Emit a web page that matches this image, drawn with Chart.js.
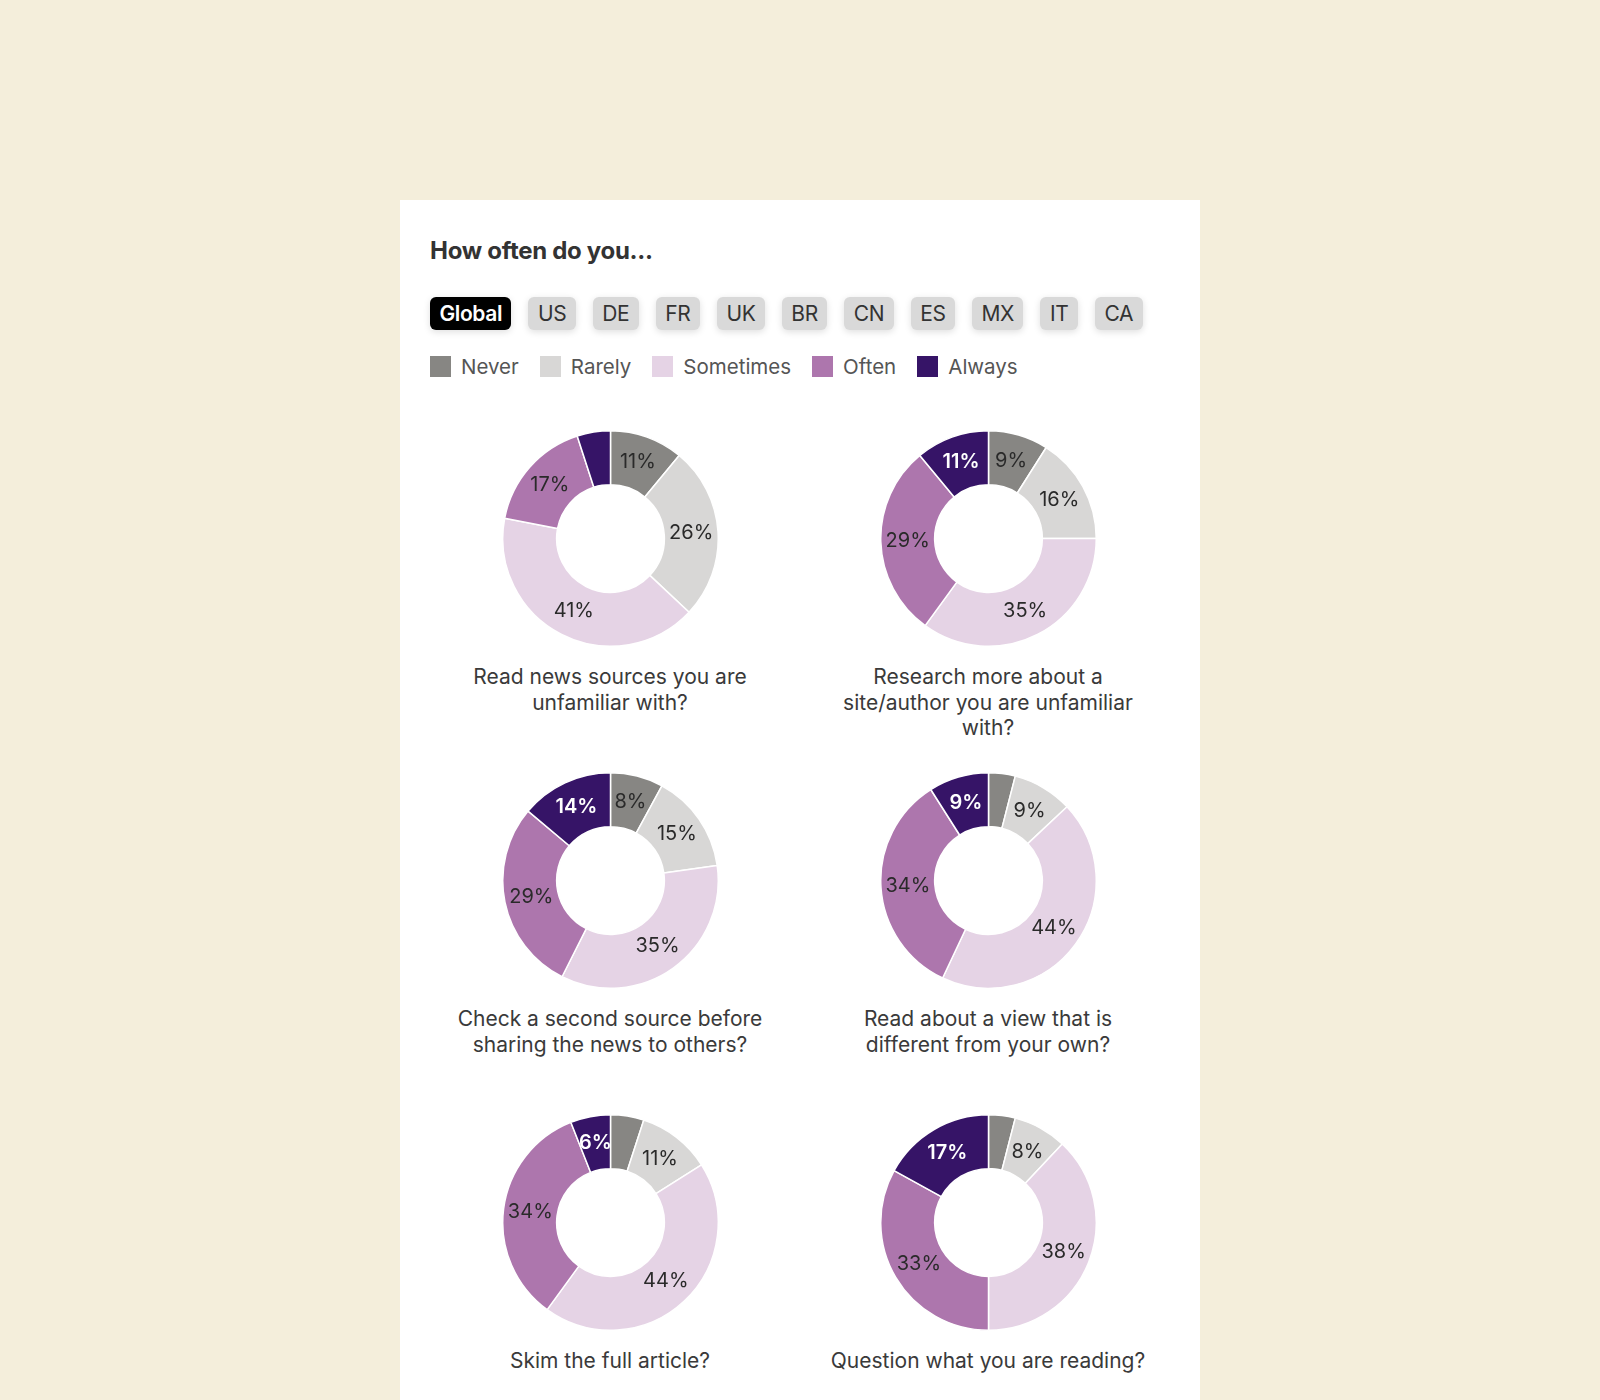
<!DOCTYPE html>
<html>
<head>
<meta charset="utf-8">
<script src="https://cdn.jsdelivr.net/npm/chart.js@4.4.1/dist/chart.umd.min.js"></script>
<style>
  html, body { margin: 0; padding: 0; }
  body { width: 1600px; height: 1400px; background: #f4eedb; font-family: Inter, "Noto Sans", sans-serif; position: relative; overflow: hidden; }
  #card { position: absolute; left: 400px; top: 200px; width: 800px; height: 1300px; background: #fff; }
  #title { position: absolute; left: 430px; top: 236px; font-size: 24px; font-weight: 700; color: #333; letter-spacing: -0.3px; }
  #tabs { position: absolute; left: 430px; top: 297px; display: flex; gap: 17px; }
  .tab { height: 33px; line-height: 33px; padding: 0 9.5px; border-radius: 6px; background: #d9d9d9; color: #333; font-size: 21px; letter-spacing: -0.4px; box-shadow: 0 2px 7px rgba(0,0,0,0.13); }
  .tab.on { background: #000; color: #fff; font-weight: 600; }
  #legend { position: absolute; left: 430px; top: 354px; display: flex; gap: 21px; font-size: 20.5px; color: #555; }
  .item { display: flex; align-items: center; height: 25px; }
  .sw { width: 21px; height: 21px; margin-right: 10px; }
  #grid { position: absolute; left: 421px; top: 430px; width: 756px; display: grid; grid-template-columns: 378px 378px; }
  .cell { height: 342px; display: flex; flex-direction: column; align-items: center; }
  .wrap { width: 217px; height: 217px; position: relative; }
  .cap { margin-top: 17px; width: 322px; text-align: center; font-size: 21px; line-height: 25.5px; color: #3a3a3a; }
</style>
</head>
<body>
<div id="card"></div>
<div id="title">How often do you...</div>
<div id="tabs"></div>
<div id="legend"></div>
<div id="grid"></div>
<script>
var categories = ['Never', 'Rarely', 'Sometimes', 'Often', 'Always'];
var colors = ['#878683', '#d8d7d6', '#e5d3e5', '#ad76ad', '#361467'];
var countries = ['Global', 'US', 'DE', 'FR', 'UK', 'BR', 'CN', 'ES', 'MX', 'IT', 'CA'];
var questions = [
  'Read news sources you are unfamiliar with?',
  'Research more about a site/author you are unfamiliar with?',
  'Check a second source before sharing the news to others?',
  'Read about a view that is different from your own?',
  'Skim the full article?',
  'Question what you are reading?'
];
// percent per question
var never     = [11,  9,  8,  4,  5,  4];
var rarely    = [26, 16, 15,  9, 11,  8];
var sometimes = [41, 35, 35, 44, 44, 38];
var often     = [17, 29, 29, 34, 34, 33];
var always    = [ 5, 11, 14,  9,  6, 17];

var tabs = document.getElementById('tabs');
countries.forEach(function(c, i) {
  var d = document.createElement('div');
  d.className = 'tab' + (i == 0 ? ' on' : '');
  d.textContent = c;
  tabs.appendChild(d);
});

var legend = document.getElementById('legend');
categories.forEach(function(c, i) {
  var d = document.createElement('div');
  d.className = 'item';
  d.innerHTML = '<span class="sw" style="background:' + colors[i] + '"></span>' + c;
  legend.appendChild(d);
});

// draws the % inside each slice (skip tiny ones)
var sliceLabels = {
  id: 'sliceLabels',
  afterDatasetsDraw: function(chart) {
    var ctx = chart.ctx;
    var ds = chart.data.datasets[0];
    chart.getDatasetMeta(0).data.forEach(function(arc, i) {
      var v = ds.data[i];
      if (v <= 5) return;
      var p = arc.tooltipPosition();
      ctx.save();
      ctx.textAlign = 'center';
      ctx.textBaseline = 'middle';
      if (i == 4) {
        ctx.fillStyle = '#fff';
        ctx.font = '600 20px Inter';
      } else {
        ctx.fillStyle = '#2a2a2a';
        ctx.font = '400 20px Inter';
      }
      ctx.fillText(v + '%', p.x, p.y);
      ctx.restore();
    });
  }
};

var grid = document.getElementById('grid');
questions.forEach(function(q, i) {
  var cell = document.createElement('div');
  cell.className = 'cell';
  var wrap = document.createElement('div');
  wrap.className = 'wrap';
  var cv = document.createElement('canvas');
  wrap.appendChild(cv);
  var cap = document.createElement('div');
  cap.className = 'cap';
  cap.textContent = q;
  cell.appendChild(wrap);
  cell.appendChild(cap);
  grid.appendChild(cell);

  new Chart(cv, {
    type: 'doughnut',
    data: {
      labels: categories,
      datasets: [{
        data: [never[i], rarely[i], sometimes[i], often[i], always[i]],
        backgroundColor: colors,
        borderColor: '#fff',
        borderWidth: 1.5
      }]
    },
    options: {
      responsive: true,
      maintainAspectRatio: false,
      animation: false,
      cutout: '50%',
      layout: { padding: 0 },
      plugins: { legend: { display: false }, tooltip: { enabled: false } }
    },
    plugins: [sliceLabels]
  });
});
</script>
</body>
</html>
